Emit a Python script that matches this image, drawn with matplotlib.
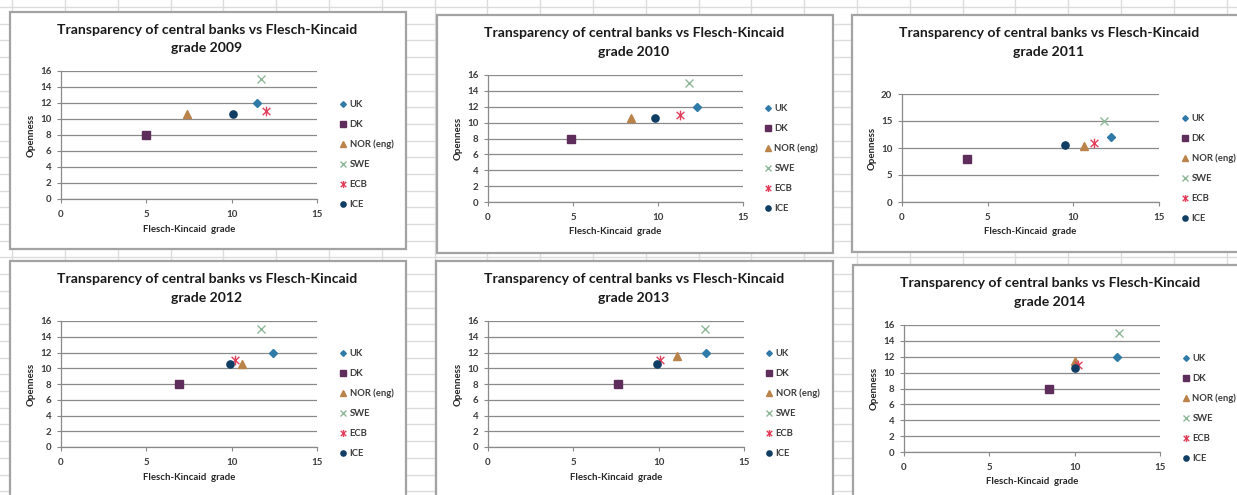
import matplotlib
matplotlib.use("Agg")
import matplotlib.pyplot as plt
from matplotlib.patches import Rectangle
from matplotlib.path import Path

# ---------------- data ----------------
years = [2009, 2010, 2011, 2012, 2013, 2014]
banks = ["UK", "DK", "NOR (eng)", "SWE", "ECB", "ICE"]

fk_2009 = [11.5, 5.0, 7.4, 11.7, 12.0, 10.1]
open_2009 = [12, 8, 10.6, 15, 11, 10.6]
fk_2010 = [12.3, 4.9, 8.4, 11.8, 11.3, 9.8]
open_2010 = [12, 8, 10.6, 15, 11, 10.6]
fk_2011 = [12.2, 3.8, 10.6, 11.8, 11.2, 9.5]
open_2011 = [12, 8, 10.3, 15, 11, 10.5]
fk_2012 = [12.4, 6.9, 10.6, 11.7, 10.2, 9.9]
open_2012 = [12, 8, 10.6, 15, 11, 10.6]
fk_2013 = [12.8, 7.6, 11.1, 12.7, 10.1, 9.9]
open_2013 = [12, 8, 11.5, 15, 11, 10.6]
fk_2014 = [12.5, 8.5, 10.0, 12.6, 10.2, 10.0]
open_2014 = [12, 8, 11.5, 15, 11, 10.6]

fk_values = [fk_2009, fk_2010, fk_2011, fk_2012, fk_2013, fk_2014]
open_values = [open_2009, open_2010, open_2011, open_2012, open_2013, open_2014]

x_ticks = [0, 5, 10, 15]
y_ticks_a = [0, 2, 4, 6, 8, 10, 12, 14, 16]
y_ticks_b = [0, 5, 10, 15, 20]
y_ticks_per_chart = [y_ticks_a, y_ticks_a, y_ticks_b, y_ticks_a, y_ticks_a, y_ticks_a]

title_line1 = "Transparency of central banks vs Flesch-Kincaid"
x_label = "Flesch-Kincaid  grade"
y_label = "Openness"

# ---------------- styling / layout ----------------
W, H = 1237, 495
fig = plt.figure(figsize=(W / 100, H / 100), dpi=100)
FONT = ["Lato", "DejaVu Sans"]
plt.rcParams["font.family"] = FONT

ecb_path = Path(
    [(0, -1), (0, 1), (-0.8, -0.75), (0.8, 0.75), (-0.8, 0.75), (0.8, -0.75)],
    [Path.MOVETO, Path.LINETO, Path.MOVETO, Path.LINETO, Path.MOVETO, Path.LINETO],
)
styles = [
    dict(marker="D", color="#2f7aa6", ms=4.0),
    dict(marker="s", color="#5e2d5c", ms=5.4),
    dict(marker="^", color="#b9834a", ms=5.6),
    dict(marker="x", color="#8fb89a", ms=6.0, mew=1.0),
    dict(marker=ecb_path, color="#e0405a", ms=7.0, mew=1.0),
    dict(marker="o", color="#0f3d63", ms=5.2),
]

# box (l, t, r, b), plot (l, t, r, b), legend marker x, legend first y, title centre x
layouts = [
    ((10, 12, 406, 249), (61, 71, 317, 199), 343, 104, 207),
    ((437, 15, 833, 253), (488, 75, 743, 202), 768, 108, 634),
    ((852, 15, 1260, 252), (902, 94, 1159, 202), 1185, 118, 1049),
    ((10, 261, 406, 510), (61, 321, 317, 447), 343, 353, 207),
    ((436, 261, 833, 510), (488, 321, 744, 447), 769, 353, 634),
    ((853, 265, 1260, 510), (904, 325, 1160, 452), 1186, 358, 1050),
]

# background "spreadsheet"
bg = fig.add_axes([0, 0, 1, 1])
bg.set_xlim(0, W)
bg.set_ylim(H, 0)
bg.axis("off")
gx = 12.2
while gx < W:
    bg.plot([gx, gx], [0, H], color="#dcdcdc", lw=1.0, zorder=0)
    gx += 52.8
gy = 7.0
while gy < H:
    bg.plot([0, W], [gy, gy], color="#dcdcdc", lw=1.0, zorder=0)
    gy += 16.7

renderer = fig.canvas.get_renderer()

def fitted_size(text, target_px, weight="bold", base=10):
    t = fig.text(0, 0, text, fontsize=base, fontweight=weight, family=FONT)
    w = t.get_window_extent(renderer=renderer).width
    t.remove()
    return base * target_px / w

title_fs = fitted_size(title_line1, 301)
xlabel_fs = fitted_size(x_label, 92)

tick_color = "#3c3c3c"

for i, year in enumerate(years):
    (bl, bt, br, bb), (pl, pt, pr, pb), lx, ly, tcx = layouts[i]
    bg.add_patch(Rectangle((bl, bt), br - bl, bb - bt, facecolor="white",
                           edgecolor="#a3a3a3", lw=1.6, zorder=2))
    # titles
    bg.text(tcx, bt + 18, title_line1, ha="center", va="center", fontsize=title_fs,
            fontweight="bold", color="#1a1a1a", zorder=5)
    bg.text(tcx, bt + 36.5, f"grade {year}", ha="center", va="center", fontsize=title_fs,
            fontweight="bold", color="#1a1a1a", zorder=5)
    # axis labels
    bg.text((pl + pr) / 2, pb + 30, x_label, ha="center", va="center", fontsize=xlabel_fs,
            fontweight="bold", color="#262626", zorder=5)
    bg.text(pl - 30, (pt + pb) / 2, y_label, ha="center", va="center", rotation=90,
            fontsize=xlabel_fs, fontweight="bold", color="#262626", zorder=5)

    ax = fig.add_axes([pl / W, 1 - pb / H, (pr - pl) / W, (pb - pt) / H], zorder=3)
    ax.patch.set_alpha(0)
    yt = y_ticks_per_chart[i]
    ax.set_xlim(x_ticks[0], x_ticks[-1])
    ax.set_ylim(yt[0], yt[-1])
    ax.set_xticks(x_ticks)
    ax.set_yticks(yt)
    ax.yaxis.grid(True, color="#8a8a8a", lw=0.9)
    ax.set_axisbelow(True)
    for s in ["top", "right"]:
        ax.spines[s].set_visible(False)
    for s in ["left", "bottom"]:
        ax.spines[s].set_color("#8a8a8a")
        ax.spines[s].set_linewidth(0.9)
    ax.tick_params(axis="both", direction="out", length=3, width=0.8, color="#8a8a8a",
                   labelsize=7, labelcolor=tick_color)
    ax.tick_params(axis="x", pad=5)
    ax.tick_params(axis="y", pad=4)
    for lab in ax.get_xticklabels() + ax.get_yticklabels():
        lab.set_fontweight("bold")

    for j, bank in enumerate(banks):
        st = styles[j]
        kw = dict(linestyle="none", marker=st["marker"], markersize=st["ms"],
                  color=st["color"], markeredgecolor=st["color"], clip_on=False)
        if "mew" in st:
            kw["markeredgewidth"] = st["mew"]
        ax.plot([fk_values[i][j]], [open_values[i][j]], **kw)
        # legend entries
        lkw = dict(kw)
        lkw["markersize"] = st["ms"] * 0.72
        bg.plot([lx], [ly + 20 * j], zorder=6, **lkw)
        bg.text(lx + 6.5, ly + 20 * j + 3.2, bank, ha="left", va="baseline", fontsize=6.8,
                color=tick_color, fontweight="bold", zorder=6)

fig.savefig("out.png", dpi=100)
